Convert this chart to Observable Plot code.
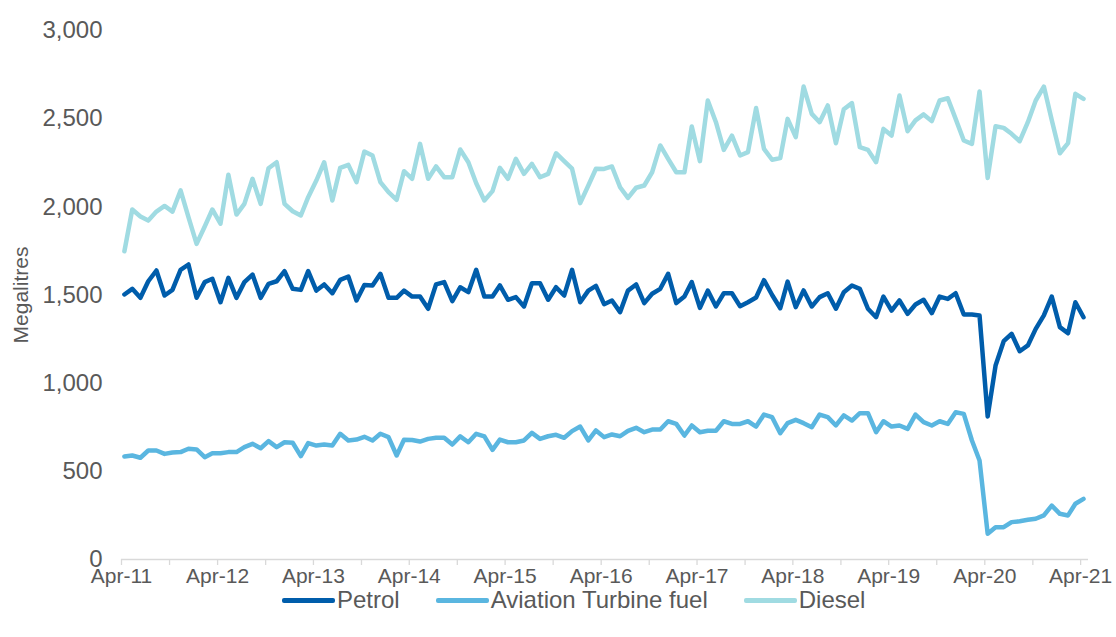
<!DOCTYPE html>
<html>
<head>
<meta charset="utf-8">
<script src="https://cdn.jsdelivr.net/npm/d3@7"></script>
<script src="https://cdn.jsdelivr.net/npm/@observablehq/plot@0.6"></script>
<style>
  html, body { margin: 0; padding: 0; background: #fff; }
  body { width: 1116px; height: 637px; font-family: "Liberation Sans", Arial, sans-serif; color: #595959; overflow: hidden; }
  #chart svg { display: block; overflow: visible; }
  g[aria-label="y-axis tick label"] text { font-size: 24px; font-family: "Liberation Sans", Arial, sans-serif; }
  g[aria-label="x-axis tick label"] text { font-size: 21px; font-family: "Liberation Sans", Arial, sans-serif; }
  g[aria-label="y-axis label"] text { font-size: 21px; font-family: "Liberation Sans", Arial, sans-serif; }
  .legend { display: flex; align-items: center; margin-left: 282px; margin-top: -2px; height: 24px; font-size: 24px; color: #595959; }
  .legend .item { display: flex; align-items: center; margin-right: 36px; }
  .legend .sw { width: 53px; height: 5px; border-radius: 2px; margin-right: 2px; }
</style>
</head>
<body>
<div id="chart"></div>
<div class="legend" id="legend"></div>
<script>
// Series names and colours
const seriesNames = ["Petrol", "Aviation Turbine fuel", "Diesel"];
const seriesColors = ["#005dab", "#5ab6e0", "#a0dbe2"];

// Monthly sales, Megalitres, Apr-11 to Apr-21 (121 months)
const petrol = [1503,1535,1484,1578,1639,1497,1529,1643,1673,1484,1573,1592,1459,1597,1484,1573,1616,1484,1563,1578,
  1635,1535,1529,1635,1525,1560,1510,1586,1605,1469,1557,1554,1620,1484,1484,1525,1491,1491,1422,1560,
  1573,1465,1544,1516,1643,1491,1491,1554,1473,1488,1435,1567,1567,1473,1544,1497,1643,1459,1525,1552,
  1448,1469,1403,1525,1560,1454,1507,1535,1620,1454,1491,1573,1427,1525,1435,1510,1510,1436,1459,1486,
  1584,1500,1425,1576,1431,1526,1435,1488,1510,1422,1516,1554,1535,1422,1374,1491,1412,1469,1393,1446,
  1473,1397,1491,1478,1510,1389,1389,1384,811,1100,1238,1280,1181,1214,1308,1384,1491,1318,1283,1459,1374];
const aviation = [584,590,577,618,618,599,607,609,628,624,580,603,603,609,609,637,656,631,671,637,
  665,662,586,660,646,652,646,713,675,680,696,675,713,694,590,679,678,669,684,690,
  690,652,698,665,713,698,622,680,665,665,675,718,684,699,707,690,728,754,675,732,
  694,709,699,730,747,722,737,737,784,769,703,760,722,730,730,784,769,769,784,754,
  822,807,716,773,792,773,750,822,807,760,817,788,830,830,722,784,754,760,741,822,
  779,760,784,769,835,826,675,561,146,183,183,212,217,225,231,250,306,259,250,316,344];
const diesel = [1748,1985,1945,1922,1973,2005,1973,2093,1941,1790,1888,1985,1904,2182,1956,2017,2159,2017,2219,2253,
  2017,1975,1951,2055,2149,2253,2036,2221,2238,2140,2313,2291,2140,2083,2040,2202,2159,2357,2159,2229,
  2168,2168,2325,2253,2134,2036,2089,2221,2159,2272,2187,2244,2168,2187,2304,2259,2216,2021,2121,2216,
  2215,2229,2111,2051,2108,2121,2196,2348,2272,2196,2196,2456,2259,2603,2480,2323,2404,2291,2310,2560,
  2329,2267,2276,2499,2395,2682,2527,2480,2575,2361,2553,2588,2338,2323,2253,2442,2404,2631,2429,2490,
  2524,2486,2603,2616,2499,2376,2357,2654,2164,2457,2448,2414,2372,2480,2603,2682,2493,2304,2361,2641,2612];

// Axis ticks
const yTicks = [0, 500, 1000, 1500, 2000, 2500, 3000];
const xTickMonths = d3.range(21).map(i => new Date(Date.UTC(2011, 3 + 6 * i, 1)));
const monthDate = k => new Date(Date.UTC(2011, 3 + k, 12));

const seriesValues = [petrol, aviation, diesel];
const rows = seriesValues.flatMap((vals, s) => vals.map((v, k) => ({date: monthDate(k), value: v, series: seriesNames[s]})));

const chart = Plot.plot({
  width: 1116,
  height: 590,
  marginTop: 30,
  marginBottom: 31,
  marginLeft: 121,
  marginRight: 28,
  style: {color: "#595959", fontFamily: "'Liberation Sans', Arial, sans-serif", background: "#fff", overflow: "visible"},
  x: {type: "utc", domain: [new Date(Date.UTC(2011, 3, 1)), new Date(Date.UTC(2021, 4, 1))]},
  y: {domain: [0, 3000]},
  color: {domain: seriesNames, range: seriesColors},
  marks: [
    Plot.axisY({ticks: yTicks, tickSize: 0, tickPadding: 19, tickFormat: d3.format(","), fill: "#595959",
      label: "Megalitres", labelAnchor: "center", labelArrow: "none", labelOffset: 108}),
    Plot.axisX({ticks: xTickMonths, tickSize: 6, tickPadding: 3, stroke: "#d9d9d9", strokeWidth: 1.3, fill: "#595959",
      tickFormat: d => d.getUTCMonth() === 3 ? "Apr-" + String(d.getUTCFullYear()).slice(2) : "", label: null}),
    Plot.ruleY([0], {stroke: "#d9d9d9", strokeWidth: 1.3}),
    Plot.line(rows, {x: "date", y: "value", z: "series", stroke: "series", strokeWidth: 4.5,
      strokeLinejoin: "round", strokeLinecap: "round"})
  ]
});
document.getElementById("chart").appendChild(chart);

const legend = document.getElementById("legend");
seriesNames.forEach((n, i) => {
  const item = document.createElement("div");
  item.className = "item";
  item.innerHTML = `<span class="sw" style="background:${seriesColors[i]}"></span><span>${n}</span>`;
  legend.appendChild(item);
});
</script>
</body>
</html>
